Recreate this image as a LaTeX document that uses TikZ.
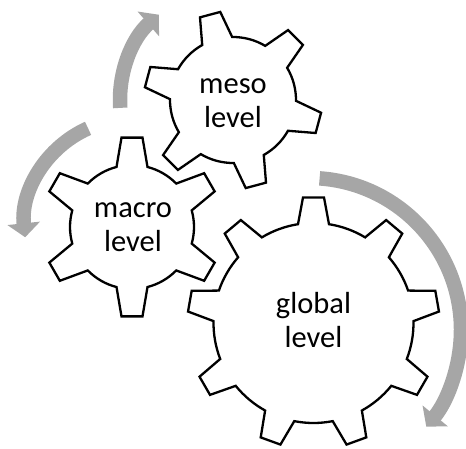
\documentclass[tikz,border=0pt]{standalone}
\usepackage{fontspec}
\setmainfont{Carlito}
\usepackage{tikz}
\usetikzlibrary{arrows.meta}
\usepackage{xcolor}
\definecolor{arrowgray}{HTML}{A6A6A6}

% cogwheel: #1 hub, #2 number of teeth, #3 angle of first tooth, #4 root radius, #5 tip radius
\newcommand{\cogwheel}[5]{%
  \begin{scope}[shift={#1}]
    \pgfmathsetmacro{\cogstep}{360/#2}
    \pgfmathsetmacro{\cogbase}{asin(15.5/#4)}
    \pgfmathsetmacro{\cogtip}{asin(10.5/#5)}
    \draw[cog] ({#3-\cogbase}:#4pt)
      \foreach \k in {1,...,#2}{
        -- ({#3+(\k-1)*\cogstep-\cogtip}:#5pt)
        -- ({#3+(\k-1)*\cogstep+\cogtip}:#5pt)
        -- ({#3+(\k-1)*\cogstep+\cogbase}:#4pt)
        arc[start angle={#3+(\k-1)*\cogstep+\cogbase}, delta angle={\cogstep-2*\cogbase}, radius=#4pt]
      } -- cycle;
  \end{scope}}

\begin{document}
\begin{tikzpicture}[x=1pt, y=1pt,
    cog/.style={draw, line width=2.3pt, fill=white, line join=miter},
    flow/.style={draw=arrowgray, line width=14.5pt, -{Triangle[length=14pt, width=32pt]}},
    lvl/.style={font=\fontsize{30.5}{34}\selectfont, align=center}]
  \useasboundingbox (0,0) rectangle (466,448);

  \coordinate (mesohub)   at (233,348);
  \coordinate (macrohub)  at (132,221);
  \coordinate (globalhub) at (313.5,125);
  \coordinate (globalturn) at (309,118);

  % turning arrows
  \draw[flow] ([shift={(184:113pt)}]mesohub) arc[start angle=184, end angle=131, radius=113pt];
  \draw[flow] ([shift={(114:108pt)}]macrohub) arc[start angle=114, end angle=186, radius=107pt];
  \draw[flow] ([shift={(86:152pt)}]globalturn) arc[start angle=86, end angle=-39.5, radius=152pt];

  % gears
  \cogwheel{(mesohub)}{6}{105}{63}{89}
  \cogwheel{(macrohub)}{6}{90}{62}{90}
  \cogwheel{(globalhub)}{9}{90}{100}{126}

  \node[lvl] (meso)   at ([yshift=-3pt]mesohub)    {meso\\level};
  \node[lvl] (macro)  at ([xshift=1pt]macrohub)    {macro\\level};
  \node[lvl] (global) at ([yshift=3pt]globalhub)   {global\\level};
\end{tikzpicture}
\end{document}
